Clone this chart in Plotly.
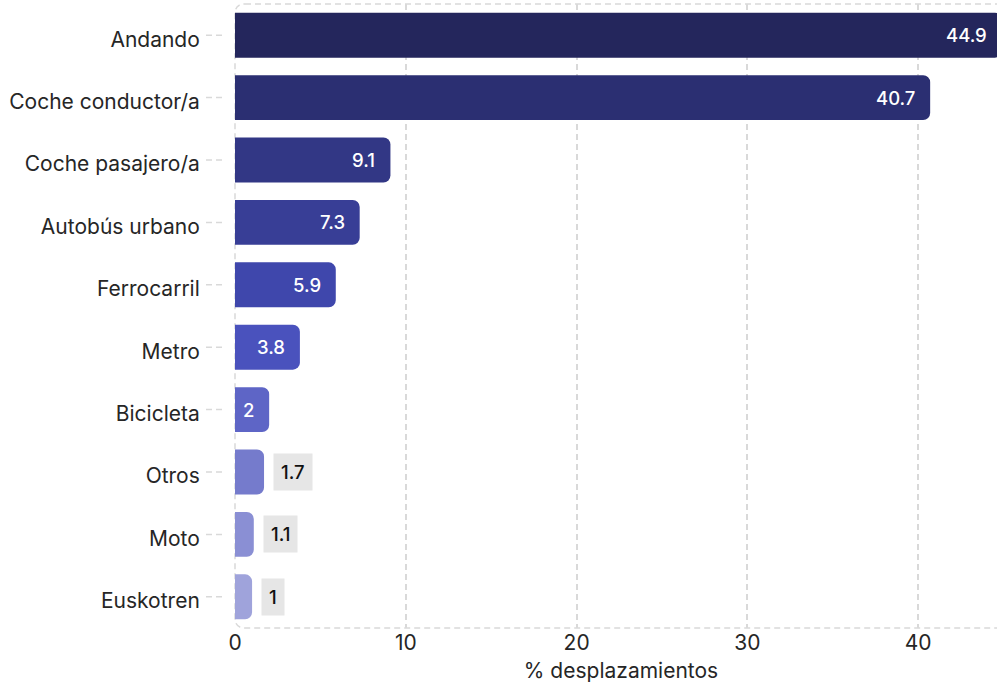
import plotly.graph_objects as go

categories = ["Andando", "Coche conductor/a", "Coche pasajero/a", "Autobús urbano",
              "Ferrocarril", "Metro", "Bicicleta", "Otros", "Moto", "Euskotren"]
values = [44.9, 40.7, 9.1, 7.3, 5.9, 3.8, 2, 1.7, 1.1, 1]
colors = ["#24265c", "#2b2f72", "#323785", "#383e96", "#3f47ac",
          "#4a52bd", "#5e65c6", "#757bcc", "#8a8fd4", "#9fa3db"]
inside = [True, True, True, True, True, True, True, False, False, False]
x_ticks = [0, 10, 20, 30, 40]
x_title = "% desplazamientos"

W, H = 1007, 683
ML, MR, MT, MB = 235, 0, 4, 55
PW = W - ML - MR
PH = H - MT - MB
FONT = "Inter, Noto Sans, sans-serif"
GRID = "#d9d9d9"
TXT = "#262626"

fig = go.Figure()
fig.add_trace(go.Bar(
    y=categories, x=values, orientation="h",
    marker=dict(color=colors, cornerradius=7, line=dict(width=0)),
    hoverinfo="skip",
))

annotations = []
for c, v, ins in zip(categories, values, inside):
    if ins:
        annotations.append(dict(x=v, y=c, xref="x", yref="y", text=str(v),
                                showarrow=False, xanchor="right", xshift=-13,
                                font=dict(family=FONT, size=18.5, color="white", weight=500)))
    else:
        annotations.append(dict(x=v, y=c, xref="x", yref="y", text=str(v),
                                showarrow=False, xanchor="left", xshift=9,
                                bgcolor="#e6e6e6", borderpad=7,
                                font=dict(family=FONT, size=18.5, color="#111111", weight=500)))

shapes = []
for c in categories:
    shapes.append(dict(type="line", xref="paper", yref="y",
                       x0=-29 / PW, x1=-12 / PW, y0=c, y1=c,
                       line=dict(color=GRID, width=1.5, dash="6px,4px"), layer="below"))
rx, ry = 10 / PW, 10 / PH
x0, x1, y0, y1 = 0, 1.05, 0, 1
path = (f"M {x0+rx},{y1} L {x1},{y1} L {x1},{y0} L {x0+rx},{y0} "
        f"Q {x0},{y0} {x0},{y0+ry} L {x0},{y1-ry} Q {x0},{y1} {x0+rx},{y1} Z")
shapes.append(dict(type="path", xref="paper", yref="paper", path=path,
                   line=dict(color=GRID, width=1.5, dash="6px,4px"), layer="below"))

fig.update_layout(
    width=W, height=H,
    margin=dict(l=ML, r=MR, t=MT, b=MB, pad=0),
    plot_bgcolor="white", paper_bgcolor="white",
    bargap=0.28,
    showlegend=False,
    font=dict(family=FONT, size=21, color=TXT),
    annotations=annotations,
    shapes=shapes,
    xaxis=dict(range=[0, PW / 17.08], tickvals=x_ticks, showgrid=True,
               gridcolor=GRID, griddash="6px,4px", gridwidth=1.5,
               zeroline=False, showline=False, ticks="",
               tickfont=dict(size=21, color=TXT),
               title=dict(text=x_title, standoff=14, font=dict(size=21, color=TXT))),
    yaxis=dict(categoryorder="array", categoryarray=categories[::-1],
               range=[-0.5, len(categories) - 0.5],
               showgrid=False, zeroline=False, showline=False,
               ticks="outside", ticklen=30, tickcolor="rgba(0,0,0,0)",
               ticklabelshift=4,
               tickfont=dict(size=21, color=TXT)),
)

fig.write_html("out.html", config={"displayModeBar": False},
               post_script="document.body.style.margin='0';document.body.style.overflow='hidden';")
